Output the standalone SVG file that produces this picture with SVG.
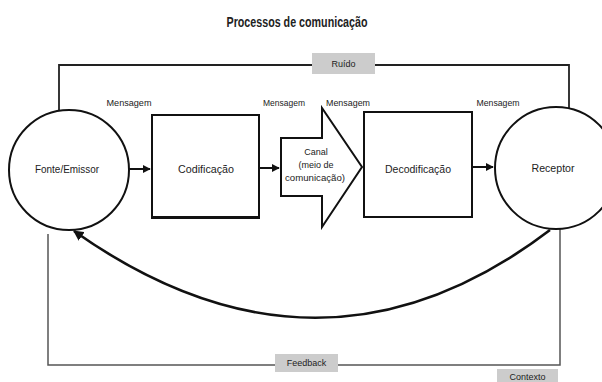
<svg xmlns="http://www.w3.org/2000/svg" width="602" height="382" viewBox="0 0 602 382">
<style>
text{font-family:"Liberation Sans",Arial,sans-serif;fill:#222}
.lbl{font-size:9px;text-anchor:middle}
.node{font-size:10px;text-anchor:middle}
.shape{fill:#fff;stroke:#111;stroke-width:2}
.wire{fill:none;stroke:#222;stroke-width:1.8}
.wire2{fill:none;stroke:#555;stroke-width:1.5}
.tag{fill:#cccccc}
.flow{stroke:#111;stroke-width:2;fill:none}
</style>
<defs>
<marker id="ah" viewBox="0 0 10 10" refX="9" refY="5" markerWidth="4" markerHeight="4" orient="auto" markerUnits="strokeWidth">
<path d="M0,0 L10,5 L0,10 z" fill="#111"/>
</marker>
<marker id="ah2" viewBox="0 0 10 10" refX="9" refY="5" markerWidth="4" markerHeight="4" orient="auto" markerUnits="strokeWidth">
<path d="M0,0 L10,5 L0,10 z" fill="#111"/>
</marker>
</defs>
<rect width="602" height="382" fill="#fff"/>
<text x="297" y="27" font-size="15" font-weight="bold" text-anchor="middle" textLength="141" lengthAdjust="spacingAndGlyphs">Processos de comunicação</text>

<g id="connectors">
<path class="wire" d="M59,110 V65 H312 M375,65 H569 V110"/>
<path class="wire2" d="M48,234 V365 H560 V228"/>
<path class="flow" d="M129,169 H150" marker-end="url(#ah)"/>
<path class="flow" d="M260,168 H279" marker-end="url(#ah)"/>
<path class="flow" d="M473,167 H493" marker-end="url(#ah)"/>
<path d="M550,230 Q320,405 74,231" fill="none" stroke="#111" stroke-width="2.6" marker-end="url(#ah2)"/>
</g>

<g id="ruido">
<rect class="tag" x="312" y="53" width="63" height="21"/>
<text class="lbl" x="343.5" y="67">Ruído</text>
</g>

<g id="labels">
<text class="lbl" x="129" y="106" textLength="45" lengthAdjust="spacingAndGlyphs">Mensagem</text>
<text class="lbl" x="284" y="106" textLength="42" lengthAdjust="spacingAndGlyphs">Mensagem</text>
<text class="lbl" x="348" y="106" textLength="44" lengthAdjust="spacingAndGlyphs">Mensagem</text>
<text class="lbl" x="498" y="106" textLength="43" lengthAdjust="spacingAndGlyphs">Mensagem</text>
</g>

<g id="fonte">
<circle class="shape" cx="69" cy="170" r="60"/>
<text class="node" x="67" y="173" textLength="64" lengthAdjust="spacingAndGlyphs">Fonte/Emissor</text>
</g>

<g id="codificacao">
<rect class="shape" x="152" y="115" width="107" height="103"/>
<line x1="152" y1="217.5" x2="259" y2="217.5" stroke="#111" stroke-width="3"/>
<text class="node" x="206" y="173" textLength="56" lengthAdjust="spacingAndGlyphs">Codificação</text>
</g>

<g id="canal">
<path d="M281,138 H322 V108 L362,167 L322,227 V196 H281 Z" fill="#fff" stroke="#111" stroke-width="2" stroke-linejoin="miter"/>
<text class="lbl" x="316" y="155">Canal</text>
<text class="lbl" x="316" y="168">(meio de</text>
<text class="lbl" x="315" y="181" textLength="60" lengthAdjust="spacingAndGlyphs">comunicação)</text>
</g>

<g id="decodificacao">
<rect class="shape" x="364" y="112" width="108" height="105"/>
<text class="node" x="418" y="173" textLength="66" lengthAdjust="spacingAndGlyphs">Decodificação</text>
</g>

<g id="receptor">
<circle class="shape" cx="556" cy="168" r="61"/>
<text class="node" x="553" y="172" textLength="43" lengthAdjust="spacingAndGlyphs">Receptor</text>
</g>

<g id="feedback">
<rect class="tag" x="275" y="354" width="63" height="18"/>
<text class="lbl" x="306.5" y="366">Feedback</text>
</g>

<g id="contexto">
<rect class="tag" x="497" y="369" width="61" height="14"/>
<text class="lbl" x="527.5" y="380">Contexto</text>
</g>
</svg>
